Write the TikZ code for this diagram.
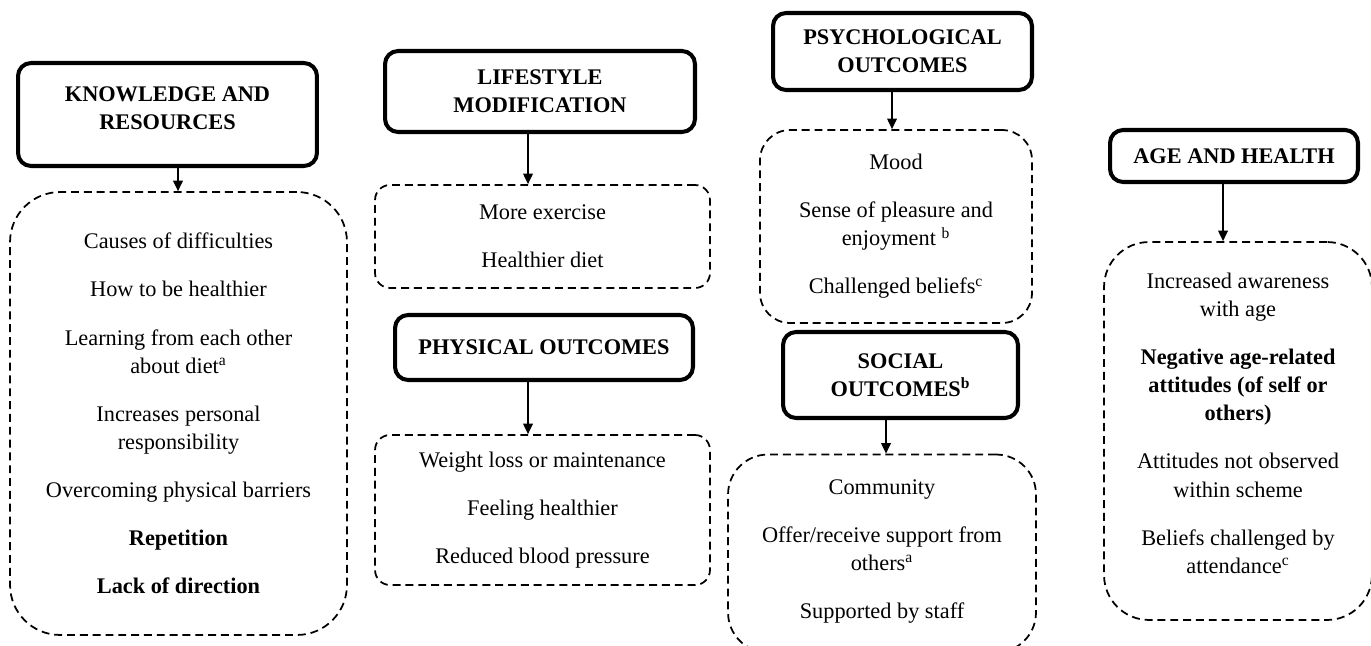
\documentclass[tikz,border=0pt]{standalone}
\usepackage{fontspec}
\setmainfont{Liberation Serif}
\usetikzlibrary{arrows.meta}
\tikzset{
  hdr/.style={draw,line width=2.3pt,rounded corners=0.26cm,align=center,inner sep=0pt,
    font=\bfseries\fontsize{12.7}{16}\selectfont},
  lst/.style={draw,line width=1pt,dash pattern=on 4.5pt off 2.8pt,align=center,inner sep=0pt,
    font=\fontsize{12.7}{16}\selectfont},
  arr/.style={line width=0.9pt,-{Triangle[length=6pt,width=5.5pt]}}
}

\begin{document}
\begin{tikzpicture}[x=0.02cm,y=-0.02cm]
  \useasboundingbox (0,0) rectangle (1371,645);
  % headings
  \node[hdr,minimum width=5.98cm,minimum height=2.06cm] (know) at (167.5,114.5) {KNOWLEDGE AND\\RESOURCES\\[-9pt]\mbox{}};
  \node[hdr,minimum width=6.2cm,minimum height=1.62cm] (life) at (540,91.5) {LIFESTYLE\\MODIFICATION};
  \node[hdr,minimum width=5.96cm,minimum height=1.3cm] (phys) at (544,347.5) {PHYSICAL OUTCOMES};
  \node[hdr,minimum width=5.18cm,minimum height=1.54cm] (psych) at (902.5,51.5) {PSYCHOLOGICAL\\OUTCOMES};
  \node[hdr,minimum width=4.7cm,minimum height=1.72cm] (social) at (900.5,375) {SOCIAL\\OUTCOMES\textsuperscript{b}};
  \node[hdr,minimum width=4.96cm,minimum height=1.04cm] (age) at (1234,156) {AGE AND HEALTH};
  % themes
  \node[lst,rounded corners=1cm,minimum width=6.74cm,minimum height=8.86cm] (knowlist) at (178.5,413.5)
    {Causes of difficulties\\[0.4cm] How to be healthier\\[0.4cm] Learning from each other\\about diet\textsuperscript{a}\\[0.4cm]
     Increases personal\\responsibility\\[0.4cm] Overcoming physical barriers\\[0.4cm] \textbf{Repetition}\\[0.4cm] \textbf{Lack of direction}};
  \node[lst,rounded corners=0.3cm,minimum width=6.7cm,minimum height=2.06cm] (lifelist) at (542.5,236.5)
    {More exercise\\[0.4cm] Healthier diet};
  \node[lst,rounded corners=0.3cm,minimum width=6.7cm,minimum height=3cm] (physlist) at (542.5,510)
    {Weight loss or maintenance\\[0.4cm] Feeling healthier\\[0.4cm] Reduced blood pressure};
  \node[lst,rounded corners=0.6cm,minimum width=5.44cm,minimum height=3.86cm] (psychlist) at (896,226.5)
    {Mood\\[0.4cm] Sense of pleasure and\\enjoyment \textsuperscript{b}\\[0.4cm] Challenged beliefs\textsuperscript{c}};
  \node[lst,rounded corners=0.8cm,minimum width=6.16cm,minimum height=3.96cm] (sociallist) at (882,553.5)
    {Community\\[0.4cm] Offer/receive support from\\others\textsuperscript{a}\\[0.4cm] Supported by staff\\[-11pt]\mbox{}};
  \node[lst,rounded corners=0.9cm,minimum width=5.36cm,minimum height=7.56cm] (agelist) at (1238,431)
    {Increased awareness\\with age\\[0.4cm] \textbf{Negative age-related}\\\textbf{attitudes (of self or}\\\textbf{others)}\\[0.4cm]
     Attitudes not observed\\within scheme\\[0.4cm] Beliefs challenged by\\attendance\textsuperscript{c}\\[-7pt]\mbox{}};
  % links
  \foreach \hd/\ls/\dx in {know/knowlist/0.21cm,life/lifelist/-0.24cm,phys/physlist/-0.32cm,
      psych/psychlist/-0.21cm,social/sociallist/-0.29cm,age/agelist/-0.22cm}
    \draw[arr] ([xshift=\dx]\hd.south) -- ([xshift=\dx]\hd.south |- \ls.north);
\end{tikzpicture}
\end{document}
